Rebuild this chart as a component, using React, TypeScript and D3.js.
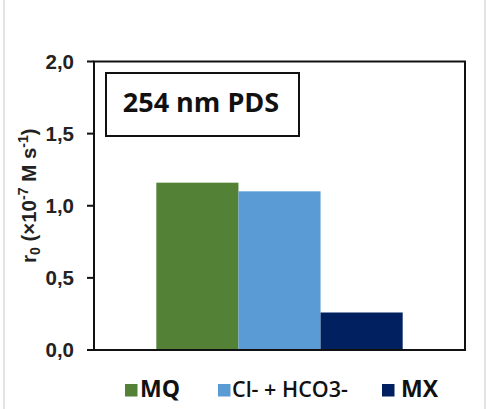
import React from "react";
import * as d3 from "d3";

// Initial rate r0 under 254 nm PDS for each water matrix
const series = ["MQ", "Cl- + HCO3-", "MX"];
const values = [1.16, 1.1, 0.26];
const colors = ["#538135", "#5b9bd5", "#002060"];
const yTicks = [0, 0.5, 1.0, 1.5, 2.0];
const yTickLabels = ["0,0", "0,5", "1,0", "1,5", "2,0"];
const groups = ["254 nm PDS"];

const W = 488;
const H = 409;
const plot = { left: 94, right: 465, top: 61.5, bottom: 350 };

export default function App() {
  const y = d3.scaleLinear().domain([0, 2]).range([plot.bottom, plot.top]);
  const x0 = d3
    .scaleBand<string>()
    .domain(groups)
    .range([plot.left, plot.right])
    .paddingInner(0)
    .paddingOuter(0.253);
  const x1 = d3
    .scaleBand<string>()
    .domain(series)
    .range([x0(groups[0])!, x0(groups[0])! + x0.bandwidth()])
    .padding(0);

  const tickFont = "'Liberation Sans', Arial, sans-serif";
  const calibriLike = "'Open Sans', 'Noto Sans', sans-serif";

  const legendItems = [
    { sq: 125, tx: 140 },
    { sq: 218, tx: 232 },
    { sq: 382, tx: 401 },
  ];

  return (
    <svg
      width={W}
      height={H}
      style={{ position: "absolute", left: 0, top: 0, background: "#fff" }}
    >
      {/* page edges */}
      <line x1={4} x2={4} y1={0} y2={H} stroke="#d0d0d0" strokeWidth={1.2} />
      <line x1={485} x2={485} y1={0} y2={H} stroke="#d0d0d0" strokeWidth={1.2} />

      {/* bars */}
      {series.map((s, i) => (
        <rect
          key={s}
          x={x1(s)}
          y={y(values[i])}
          width={x1.bandwidth()}
          height={y(0) - y(values[i])}
          fill={colors[i]}
        />
      ))}

      {/* plot frame */}
      <rect
        x={plot.left}
        y={plot.top}
        width={plot.right - plot.left}
        height={plot.bottom - plot.top}
        fill="none"
        stroke="#111"
        strokeWidth={2}
      />

      {/* y ticks */}
      {yTicks.map((t, i) => (
        <g key={t}>
          <line
            x1={plot.left - 7}
            x2={plot.left}
            y1={y(t)}
            y2={y(t)}
            stroke="#111"
            strokeWidth={2}
          />
          <text
            x={74}
            y={y(t)}
            dy="0.36em"
            textAnchor="end"
            fontFamily={tickFont}
            fontWeight="bold"
            fontSize={20.5}
            fill="#222"
          >
            {yTickLabels[i]}
          </text>
        </g>
      ))}

      {/* y axis title */}
      <text
        transform={`translate(36, ${(plot.top + plot.bottom) / 2 - 10}) rotate(-90)`}
        textAnchor="middle"
        fontFamily={tickFont}
        fontWeight="bold"
        fontSize={20.5}
        fill="#222"
      >
        r
        <tspan fontSize={14} dy={4}>0</tspan>
        <tspan dy={-4}> (×10</tspan>
        <tspan fontSize={14} dy={-8}>-7</tspan>
        <tspan dy={8}> M s</tspan>
        <tspan fontSize={14} dy={-8}>-1</tspan>
        <tspan dy={8}>)</tspan>
      </text>

      {/* annotation box */}
      <rect x={106} y={73} width={193} height={63} fill="#fff" stroke="#111" strokeWidth={2} />
      <text
        x={201}
        y={112}
        textAnchor="middle"
        fontFamily={calibriLike}
        fontWeight="bold"
        fontSize={27}
        fill="#111"
      >
        {groups[0]}
      </text>

      {/* legend */}
      {series.map((s, i) => (
        <g key={s}>
          <rect x={legendItems[i].sq} y={384} width={12.5} height={12.5} fill={colors[i]} />
          <text
            x={legendItems[i].tx}
            y={396.5}
            fontFamily={calibriLike}
            fontWeight={i === 1 ? 600 : "bold"}
            fontSize={i === 1 ? 21.5 : 23}
            fill="#111"
          >
            {s}
          </text>
        </g>
      ))}
    </svg>
  );
}
